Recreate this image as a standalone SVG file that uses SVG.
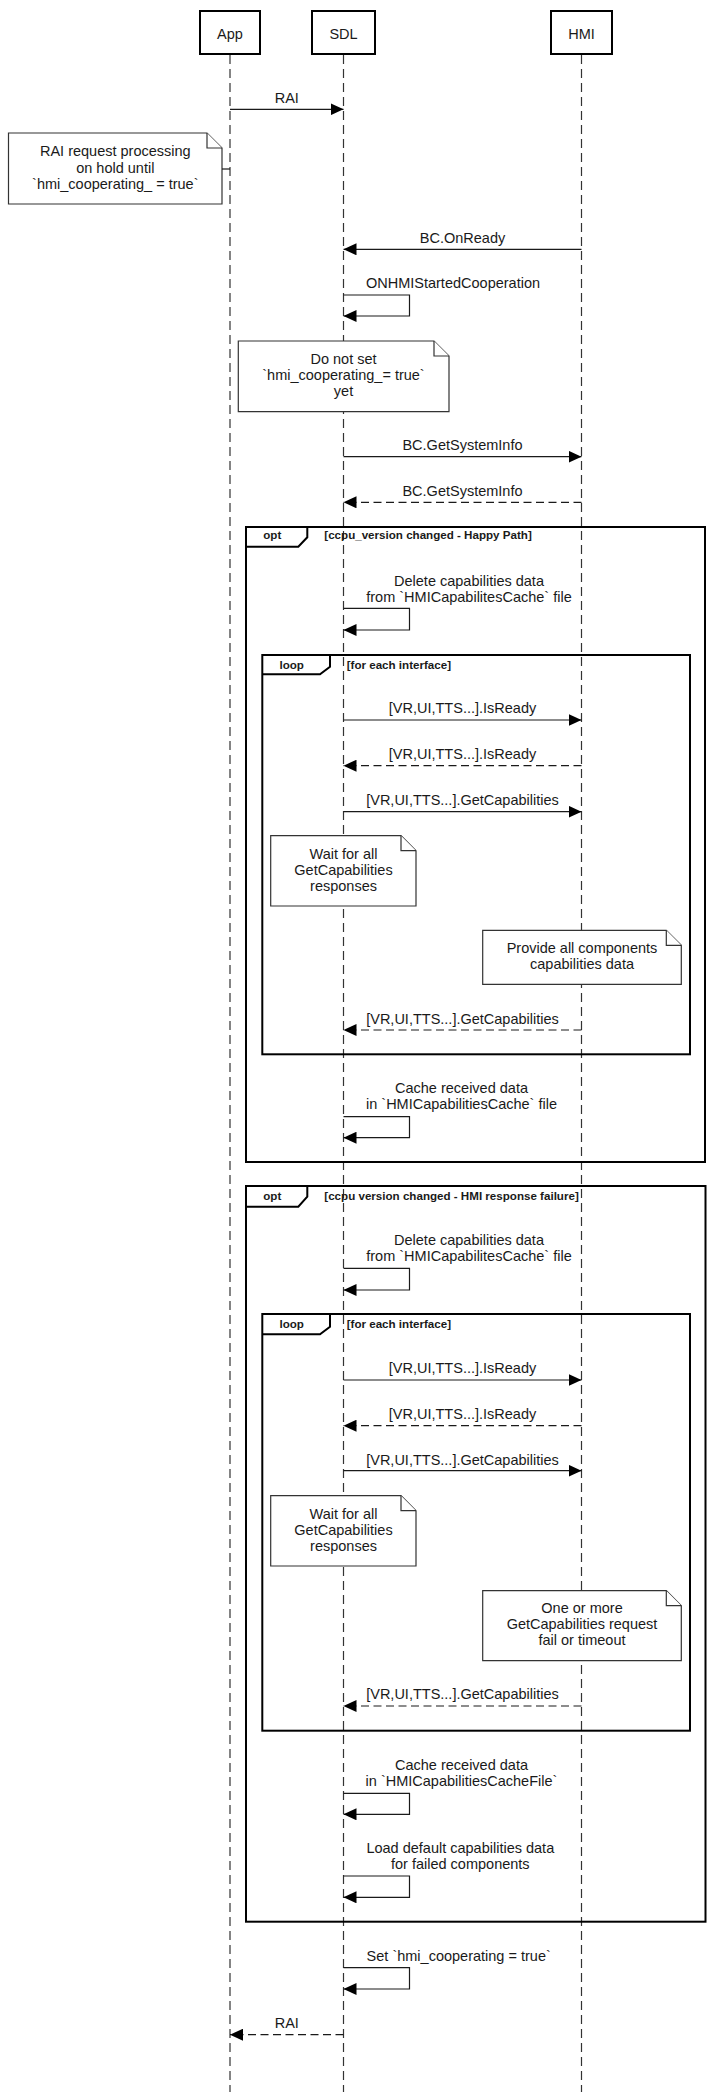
<svg xmlns="http://www.w3.org/2000/svg" width="721" height="2092" viewBox="0 0 721 2092">
<style>
.t{font-family:"Liberation Sans",Arial,Helvetica,sans-serif;font-size:14.5px;fill:#1a1a1a;text-anchor:middle}
.h{font-family:"Liberation Sans",Arial,Helvetica,sans-serif;font-size:11.6px;font-weight:bold;fill:#1a1a1a}
.life{stroke:#333;stroke-width:1.2;stroke-dasharray:9 5;fill:none}
.msg{stroke:#1a1a1a;stroke-width:1.2;fill:none}
.ret{stroke-dasharray:8 4.5}
.frame{fill:none;stroke:#000;stroke-width:2}
.note{fill:#fff;stroke:#333;stroke-width:1.2}
.part{fill:#fff;stroke:#000;stroke-width:2}
</style>
<defs>
<marker id="ah" viewBox="0 0 13 12" refX="13" refY="6" markerWidth="13" markerHeight="12" markerUnits="userSpaceOnUse" orient="auto">
<path d="M0,0 L13,6 L0,12 Z" fill="#000"/>
</marker>
</defs>
<rect width="721" height="2092" fill="#fff"/>

<g id="lifelines">
<line class="life" x1="230" y1="55" x2="230" y2="2092"/>
<line class="life" x1="343.5" y1="55" x2="343.5" y2="2092"/>
<line class="life" x1="581.5" y1="55" x2="581.5" y2="2092"/>
</g>

<g id="App"><rect class="part" x="200" y="11" width="60" height="43"/><text class="t" x="230" y="38.5">App</text></g>
<g id="SDL"><rect class="part" x="312" y="11" width="63" height="43"/><text class="t" x="343.5" y="38.5">SDL</text></g>
<g id="HMI"><rect class="part" x="551" y="11" width="61" height="43"/><text class="t" x="581.5" y="38.5">HMI</text></g>

<g id="opt1">
<rect class="frame" x="246" y="527" width="459" height="635"/>
<path class="frame" d="M246,546.7 H298.3 L307.3,537.3 V527"/>
<text class="h" x="272.3" y="539" text-anchor="middle">opt</text>
<text class="h" x="324.3" y="539">[ccpu_version changed - Happy Path]</text>
</g>
<g id="loop1">
<rect class="frame" x="262.3" y="655" width="427.7" height="399.3"/>
<path class="frame" d="M262.3,674.3 H320 L330,666.7 V655"/>
<text class="h" x="291.7" y="669" text-anchor="middle">loop</text>
<text class="h" x="346.7" y="669">[for each interface]</text>
</g>
<g id="opt2">
<rect class="frame" x="246" y="1186" width="459.5" height="735.7"/>
<path class="frame" d="M246,1206.7 H298.3 L307.3,1196.7 V1186"/>
<text class="h" x="272.3" y="1199.5" text-anchor="middle">opt</text>
<text class="h" x="324.3" y="1199.5">[ccpu version changed - HMI response failure]</text>
</g>
<g id="loop2">
<rect class="frame" x="262.3" y="1314" width="427.7" height="416.7"/>
<path class="frame" d="M262.3,1334.3 H320 L330,1326.7 V1314"/>
<text class="h" x="291.7" y="1328" text-anchor="middle">loop</text>
<text class="h" x="346.7" y="1328">[for each interface]</text>
</g>

<g id="note-rai-hold">
<path class="note" d="M8.5,133 H207 L222,148 V204 H8.5 Z"/>
<path class="note" d="M207,133 V148 H222" fill="none"/>
<text class="t" x="115.3" y="156">RAI request processing</text>
<text class="t" x="115.3" y="172.5">on hold until</text>
<text class="t" x="115.3" y="189">`hmi_cooperating_ = true`</text>
</g>
<g id="note-do-not-set">
<path class="note" d="M238.3,341 H434 L449,356 V411.7 H238.3 Z"/>
<path class="note" d="M434,341 V356 H449" fill="none"/>
<text class="t" x="343.5" y="364">Do not set</text>
<text class="t" x="343.5" y="380.3">`hmi_cooperating_= true`</text>
<text class="t" x="343.5" y="396">yet</text>
</g>
<g id="note-wait-1">
<path class="note" d="M270.7,835.7 H401 L416,850.7 V906 H270.7 Z"/>
<path class="note" d="M401,835.7 V850.7 H416" fill="none"/>
<text class="t" x="343.5" y="859.3">Wait for all</text>
<text class="t" x="343.5" y="875">GetCapabilities</text>
<text class="t" x="343.5" y="891">responses</text>
</g>
<g id="note-provide">
<path class="note" d="M482.7,930.3 H666.3 L681.3,945.3 V984.3 H482.7 Z"/>
<path class="note" d="M666.3,930.3 V945.3 H681.3" fill="none"/>
<text class="t" x="582" y="953.3">Provide all components</text>
<text class="t" x="582" y="969.3">capabilities data</text>
</g>
<g id="note-wait-2">
<path class="note" d="M270.7,1495.7 H401 L416,1510.7 V1566 H270.7 Z"/>
<path class="note" d="M401,1495.7 V1510.7 H416" fill="none"/>
<text class="t" x="343.5" y="1519.3">Wait for all</text>
<text class="t" x="343.5" y="1535">GetCapabilities</text>
<text class="t" x="343.5" y="1551">responses</text>
</g>
<g id="note-fail">
<path class="note" d="M482.7,1590.7 H666.3 L681.3,1605.7 V1660.7 H482.7 Z"/>
<path class="note" d="M666.3,1590.7 V1605.7 H681.3" fill="none"/>
<text class="t" x="582" y="1612.7">One or more</text>
<text class="t" x="582" y="1629">GetCapabilities request</text>
<text class="t" x="582" y="1645.3">fail or timeout</text>
</g>

<g id="connectors">
<path class="msg" d="M230,109.3 H343.5" marker-end="url(#ah)"/>
<path class="msg" d="M222,169 H230"/>
<path class="msg" d="M581.5,249.3 H343.5" marker-end="url(#ah)"/>
<path class="msg" d="M343.5,295 H409.5 V316 H343.5" marker-end="url(#ah)"/>
<path class="msg" d="M343.5,456.7 H581.5" marker-end="url(#ah)"/>
<path class="msg ret" d="M581.5,502.3 H343.5" marker-end="url(#ah)"/>
<path class="msg" d="M343.5,608.3 H409.5 V630 H343.5" marker-end="url(#ah)"/>
<path class="msg" d="M343.5,720 H581.5" marker-end="url(#ah)"/>
<path class="msg ret" d="M581.5,765.7 H343.5" marker-end="url(#ah)"/>
<path class="msg" d="M343.5,811.7 H581.5" marker-end="url(#ah)"/>
<path class="msg ret" d="M581.5,1030 H343.5" marker-end="url(#ah)"/>
<path class="msg" d="M343.5,1116.7 H409.5 V1137.7 H343.5" marker-end="url(#ah)"/>
<path class="msg" d="M343.5,1268.3 H409.5 V1290 H343.5" marker-end="url(#ah)"/>
<path class="msg" d="M343.5,1380 H581.5" marker-end="url(#ah)"/>
<path class="msg ret" d="M581.5,1425.7 H343.5" marker-end="url(#ah)"/>
<path class="msg" d="M343.5,1470.7 H581.5" marker-end="url(#ah)"/>
<path class="msg ret" d="M581.5,1706 H343.5" marker-end="url(#ah)"/>
<path class="msg" d="M343.5,1793.3 H409.5 V1814.3 H343.5" marker-end="url(#ah)"/>
<path class="msg" d="M343.5,1876 H409.5 V1897.3 H343.5" marker-end="url(#ah)"/>
<path class="msg" d="M343.5,1967.7 H409.5 V1989 H343.5" marker-end="url(#ah)"/>
<path class="msg ret" d="M343.5,2034.7 H230" marker-end="url(#ah)"/>
</g>

<g id="labels">
<text class="t" x="286.8" y="102.5">RAI</text>
<text class="t" x="462.5" y="242.5">BC.OnReady</text>
<text class="t" x="453" y="287.5">ONHMIStartedCooperation</text>
<text class="t" x="462.5" y="450">BC.GetSystemInfo</text>
<text class="t" x="462.5" y="496">BC.GetSystemInfo</text>
<text class="t" x="469" y="585.7">Delete capabilities data</text>
<text class="t" x="469" y="601.7">from `HMICapabilitesCache` file</text>
<text class="t" x="462.5" y="713">[VR,UI,TTS...].IsReady</text>
<text class="t" x="462.5" y="759.3">[VR,UI,TTS...].IsReady</text>
<text class="t" x="462.5" y="805.3">[VR,UI,TTS...].GetCapabilities</text>
<text class="t" x="462.5" y="1023.5">[VR,UI,TTS...].GetCapabilities</text>
<text class="t" x="461.5" y="1093.3">Cache received data</text>
<text class="t" x="461.5" y="1109.3">in `HMICapabilitiesCache` file</text>
<text class="t" x="469" y="1245">Delete capabilities data</text>
<text class="t" x="469" y="1261">from `HMICapabilitesCache` file</text>
<text class="t" x="462.5" y="1373.3">[VR,UI,TTS...].IsReady</text>
<text class="t" x="462.5" y="1419">[VR,UI,TTS...].IsReady</text>
<text class="t" x="462.5" y="1464.5">[VR,UI,TTS...].GetCapabilities</text>
<text class="t" x="462.5" y="1699.3">[VR,UI,TTS...].GetCapabilities</text>
<text class="t" x="461.5" y="1769.5">Cache received data</text>
<text class="t" x="461.5" y="1786">in `HMICapabilitiesCacheFile`</text>
<text class="t" x="460.3" y="1853.3">Load default capabilities data</text>
<text class="t" x="460.3" y="1869.3">for failed components</text>
<text class="t" x="458.7" y="1961">Set `hmi_cooperating = true`</text>
<text class="t" x="286.8" y="2028">RAI</text>
</g>
</svg>
